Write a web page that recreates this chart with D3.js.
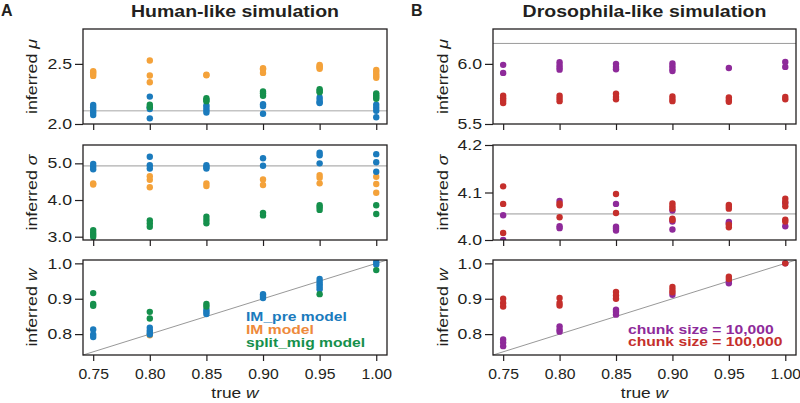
<!DOCTYPE html>
<html><head><meta charset="utf-8">
<script src="https://cdn.jsdelivr.net/npm/d3@7"></script>
<style>
body{margin:0;background:#fff}
svg{display:block}
text{font-family:"Liberation Sans",Arial,Helvetica,sans-serif;fill:#231f20}
</style>
</head><body>
<svg id="c" width="800" height="403"></svg>
<script>
// ---------- data ----------
const trueW = [0.75, 0.80, 0.85, 0.90, 0.95, 1.00];
const xTickLabels = ["0.75", "0.80", "0.85", "0.90", "0.95", "1.00"];

// Human-like simulation (panel A)
const humanTrueMu = 2.11;
const humanTrueSigma = 4.93;
const humanMuIMpre = [[2.158,2.139,2.117,2.097,2.075],[2.228,2.14,2.125,2.047],[2.155,2.135,2.115,2.095],[2.165,2.15,2.085],[2.22,2.20,2.18,2.175],[2.16,2.135,2.11,2.056]];
const humanMuIM = [[2.44,2.43,2.415,2.40],[2.528,2.403,2.347],[2.41,2.405],[2.464,2.455,2.425],[2.492,2.48,2.47,2.46],[2.45,2.435,2.415,2.40,2.385]];
const humanMuSplit = [[],[2.16,2.14],[2.215,2.20,2.19],[2.27,2.255,2.235],[2.29,2.275,2.265],[2.255,2.24,2.225,2.21]];
const humanSigmaIMpre = [[4.98,4.91,4.84],[5.18,4.95,4.86],[4.95,4.90,4.86],[5.14,4.935],[5.29,5.22,5.00],[5.25,5.03,4.77]];
const humanSigmaIM = [[4.455,4.42],[4.65,4.55,4.35],[4.45,4.38],[4.56,4.41],[4.68,4.61,4.455],[4.635,4.436,4.2]];
const humanSigmaSplit = [[3.18,3.11,3.05,2.99],[3.44,3.36,3.27],[3.545,3.455,3.365],[3.65,3.58],[3.86,3.80,3.73],[3.856,3.62]];
const humanWIMpre = [[0.813,0.799,0.792],[0.818,0.81,0.804,0.799],[0.869,0.863,0.857],[0.913,0.908,0.902],[0.956,0.948,0.941,0.934,0.927],[1.004,0.997]];
const humanWIM = [[],[0.797],[],[],[],[]];
const humanWSplit = [[0.916,0.885,0.88],[0.863,0.844],[0.885,0.878],[],[0.913],[0.981]];
const humanLegend = ["IM_pre model", "IM model", "split_mig model"];

// Drosophila-like simulation (panel B)
const droTrueMu = 6.17;
const droTrueSigma = 4.055;
const droMuChunk10k = [[5.992,5.925],[6.013,5.99,5.97,5.952],[6.0,5.975,5.955],[6.003,5.98,5.958,5.94],[5.966],[6.015,5.975]];
const droMuChunk100k = [[5.735,5.715,5.695,5.675],[5.735,5.712,5.69],[5.751,5.724,5.705],[5.729,5.707,5.69],[5.72,5.70,5.685],[5.724,5.705]];
const droSigmaChunk10k = [[4.052,4.0],[4.082,4.029,4.025],[4.076,4.028,4.024,4.020],[4.062,4.039,4.022],[4.038,4.035],[4.078,4.029]];
const droSigmaChunk100k = [[4.113,4.076,4.015],[4.077,4.073,4.048],[4.097,4.057],[4.077,4.071,4.066,4.045,4.042],[4.074,4.07,4.066,4.032,4.027],[4.087,4.080,4.071,4.043,4.039]];
const droWChunk10k = [[0.785,0.776,0.766],[0.822,0.813,0.807],[0.869,0.863,0.855],[0.911],[0.948,0.944],[1.0]];
const droWChunk100k = [[0.90,0.888,0.878],[0.902,0.888,0.881],[0.919,0.909,0.90],[0.933,0.925,0.918],[0.962,0.956],[1.0]];
const droLegend = ["chunk size = 10,000", "chunk size = 100,000"];

const muTicks = [2.0, 2.5], sigmaTicks = [3.0, 4.0, 5.0], wTicks = [0.8, 0.9, 1.0];
const droMuTicks = [5.5, 6.0], droSigmaTicks = [4.0, 4.1, 4.2];

// ---------- style ----------
const C = {blue:"#1b7bbd", orange:"#f4a23a", green:"#15904c", purple:"#8e2a9a", red:"#c52f2c", imText:"#ee8a3c"};
const svg = d3.select("#c");
const xDomain = [0.741, 1.0095];
const colsX = [[83, 387], [493, 796]];
const rowsY = [[29, 124], [145, 240], [260, 355]];

function stretch(sel, s) {
  sel.each(function () {
    const t = d3.select(this);
    const x = +t.attr("x") || 0, y = +t.attr("y") || 0;
    t.attr("transform", `translate(${x},${y}) scale(${s},1) translate(${-x},${-y})`);
  });
}

function panel(p) {
  const [x0, x1] = colsX[p.col], [y0, y1] = rowsY[p.row];
  const x = d3.scaleLinear().domain(xDomain).range([x0, x1]);
  const y = d3.scaleLinear().domain(p.yDomain).range([y1, y0]);
  const g = svg.append("g");
  const clipId = "clip" + p.col + p.row;
  g.append("clipPath").attr("id", clipId).append("rect").attr("x", x0).attr("y", y0).attr("width", x1 - x0).attr("height", y1 - y0);

  // reference line
  if (p.ref === "diag") {
    const lo = Math.max(xDomain[0], p.yDomain[0]), hi = Math.min(xDomain[1], p.yDomain[1]);
    g.append("line").attr("x1", x(lo)).attr("y1", y(lo)).attr("x2", x(hi)).attr("y2", y(hi))
      .attr("stroke", "#8c8c8c").attr("stroke-width", 0.9);
  } else {
    g.append("line").attr("x1", x0).attr("x2", x1).attr("y1", y(p.ref)).attr("y2", y(p.ref))
      .attr("stroke", p.refColor).attr("stroke-width", p.refWidth);
  }

  // points
  const dots = g.append("g").attr("clip-path", `url(#${clipId})`);
  p.series.forEach(s => {
    const pts = s.data.flatMap((vals, i) => vals.map(v => ({w: trueW[i], v})));
    dots.selectAll(null).data(pts).enter().append("circle")
      .attr("cx", d => x(d.w)).attr("cy", d => y(d.v)).attr("r", 3.2).attr("fill", s.color);
  });

  // frame
  g.append("rect").attr("x", x0).attr("y", y0).attr("width", x1 - x0).attr("height", y1 - y0)
    .attr("fill", "none").attr("stroke", "#231f20").attr("stroke-width", 1.3);

  // y axis
  const ya = g.append("g").attr("transform", `translate(${x0},0)`)
    .call(d3.axisLeft(y).tickValues(p.yTicks).tickFormat(d3.format(".1f")).tickSize(8).tickPadding(3));
  ya.select(".domain").remove();
  ya.selectAll(".tick line").attr("stroke", "#231f20").attr("stroke-width", 1.2);
  ya.selectAll(".tick text").attr("font-size", 14.5).attr("fill", "#231f20").attr("font-family", null);
  stretch(ya.selectAll(".tick text"), 1.22);

  // x axis
  const xa = g.append("g").attr("transform", `translate(0,${y1})`)
    .call(d3.axisBottom(x).tickValues(trueW).tickFormat((d, i) => p.showX ? xTickLabels[i] : "").tickSize(6).tickPadding(7));
  xa.select(".domain").remove();
  xa.selectAll(".tick line").attr("stroke", "#231f20").attr("stroke-width", 1.2);
  xa.selectAll(".tick text").attr("font-size", 15).attr("fill", "#231f20").attr("font-family", null);
  stretch(xa.selectAll(".tick text"), 1.05);

  // y label
  const lx = p.col === 0 ? 36.5 : 447.5;
  const lab = g.append("g").attr("transform", `translate(${lx},${(y0 + y1) / 2}) rotate(-90)`)
    .append("text").attr("text-anchor", "middle").attr("font-size", 15.5).attr("transform", "scale(1.15,1)");
  lab.append("tspan").text("inferred ");
  lab.append("tspan").attr("font-style", "italic").text(p.sym);

  if (p.showX) {
    const t = g.append("text").attr("x", (x0 + x1) / 2).attr("y", 398).attr("text-anchor", "middle").attr("font-size", 15.5);
    t.append("tspan").text("true ");
    t.append("tspan").attr("font-style", "italic").text("w");
    stretch(t, 1.12);
  }
  return {x, y};
}

// Panel A
panel({col:0,row:0,yDomain:[2.0,2.79],yTicks:muTicks,sym:"\u03bc",ref:humanTrueMu,refColor:"#c4c4c4",refWidth:1.6,
  series:[{data:humanMuIM,color:C.orange},{data:humanMuIMpre,color:C.blue},{data:humanMuSplit,color:C.green}]});
panel({col:0,row:1,yDomain:[2.91,5.5],yTicks:sigmaTicks,sym:"\u03c3",ref:humanTrueSigma,refColor:"#9a9a9a",refWidth:1,
  series:[{data:humanSigmaIM,color:C.orange},{data:humanSigmaIMpre,color:C.blue},{data:humanSigmaSplit,color:C.green}]});
panel({col:0,row:2,yDomain:[0.741,1.0095],yTicks:wTicks,sym:"w",ref:"diag",showX:true,
  series:[{data:humanWIM,color:C.orange},{data:humanWIMpre,color:C.blue},{data:humanWSplit,color:C.green}]});

// Panel B
panel({col:1,row:0,yDomain:[5.5,6.29],yTicks:droMuTicks,sym:"\u03bc",ref:droTrueMu,refColor:"#9a9a9a",refWidth:1,
  series:[{data:droMuChunk10k,color:C.purple},{data:droMuChunk100k,color:C.red}]});
panel({col:1,row:1,yDomain:[4.0,4.2],yTicks:droSigmaTicks,sym:"\u03c3",ref:droTrueSigma,refColor:"#c4c4c4",refWidth:1.6,
  series:[{data:droSigmaChunk10k,color:C.purple},{data:droSigmaChunk100k,color:C.red}]});
panel({col:1,row:2,yDomain:[0.741,1.0095],yTicks:wTicks,sym:"w",ref:"diag",showX:true,
  series:[{data:droWChunk10k,color:C.purple},{data:droWChunk100k,color:C.red}]});

// Titles and panel letters
[["Human-like simulation", 0], ["Drosophila-like simulation", 1]].forEach(([t, c]) => {
  const el = svg.append("text").attr("x", (colsX[c][0] + colsX[c][1]) / 2).attr("y", 17)
    .attr("text-anchor", "middle").attr("font-size", 16).attr("font-weight", "bold").text(t);
  stretch(el, 1.22);
});
svg.append("text").attr("x", 1).attr("y", 16).attr("font-size", 16).attr("font-weight", "bold").text("A");
svg.append("text").attr("x", 411).attr("y", 16).attr("font-size", 16).attr("font-weight", "bold").text("B");

// Legends
const legA = [C.blue, C.imText, C.green];
humanLegend.forEach((t, i) => {
  const el = svg.append("text").attr("x", 246).attr("y", 321 + i * 13).attr("font-size", 13.5)
    .attr("font-weight", "bold").attr("fill", legA[i]).style("fill", legA[i]).text(t);
  stretch(el, 1.16);
});
const legB = [C.purple, C.red];
droLegend.forEach((t, i) => {
  const el = svg.append("text").attr("x", 628).attr("y", 334 + i * 12.3).attr("font-size", 13.5)
    .attr("font-weight", "bold").style("fill", legB[i]).text(t);
  stretch(el, 1.16);
});
</script>
</body></html>
